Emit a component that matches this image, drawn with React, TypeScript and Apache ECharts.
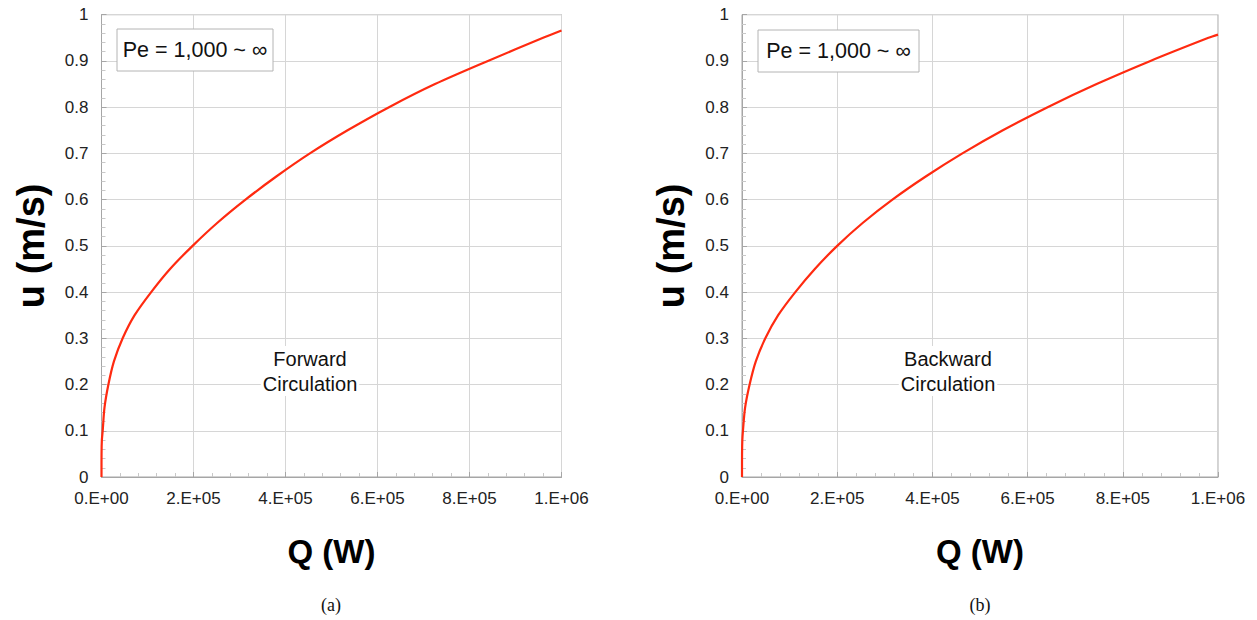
import React, { useEffect, useRef } from "react";
import * as echarts from "echarts";

// Forward circulation (a): heat input Q (W) and velocity u (m/s)
const forwardQ = [0, 100, 800, 2600, 6500, 15000, 27000, 46000, 72000, 108000, 149000, 198000, 252000, 313000, 380000, 453000, 535000, 625000, 725000, 840000, 960000, 1000000];
const forwardU = [0, 0.05, 0.08, 0.1, 0.15, 0.2, 0.25, 0.3, 0.35, 0.4, 0.45, 0.5, 0.55, 0.6, 0.65, 0.7, 0.75, 0.8, 0.85, 0.9, 0.95, 0.966];

// Backward circulation (b)
const backwardQ = [0, 100, 700, 2000, 6500, 16000, 29000, 49000, 76000, 112000, 153000, 200000, 254000, 316000, 386000, 463000, 548000, 642000, 745000, 858000, 980000, 1000000];
const backwardU = [0, 0.05, 0.08, 0.1, 0.15, 0.2, 0.25, 0.3, 0.35, 0.4, 0.45, 0.5, 0.55, 0.6, 0.65, 0.7, 0.75, 0.8, 0.85, 0.9, 0.95, 0.957];

const xTickLabels = ["0.E+00", "2.E+05", "4.E+05", "6.E+05", "8.E+05", "1.E+06"];
const yTickLabels = ["0", "0.1", "0.2", "0.3", "0.4", "0.5", "0.6", "0.7", "0.8", "0.9", "1"];

const FONT = "'Liberation Sans', Arial, Helvetica, sans-serif";
const FRAME = "#a6a6a6";
const GRIDLINE = "#d6d6d6";

const grids = [
  { left: 101.5, top: 14.7, width: 460, height: 462.3 },
  { left: 742, top: 14.7, width: 476, height: 462.3 },
];

function makeX(i: number) {
  return {
    type: "value",
    gridIndex: i,
    min: 0,
    max: 1000000,
    interval: 200000,
    name: "Q (W)",
    nameLocation: "middle",
    nameGap: 58,
    nameTextStyle: { fontFamily: FONT, fontWeight: "bold", fontSize: 33, color: "#000" },
    axisLine: { show: true, lineStyle: { color: FRAME, width: 1 } },
    axisTick: { show: true, inside: true, length: 5, lineStyle: { color: FRAME } },
    minorTick: { show: true, splitNumber: 5, length: 4, lineStyle: { color: "#c8c8c8" } },
    axisLabel: {
      fontFamily: FONT,
      fontSize: 17,
      color: "#222",
      margin: 13,
      formatter: (v: number) => xTickLabels[Math.round(v / 200000)] ?? "",
    },
    splitLine: { show: true, lineStyle: { color: GRIDLINE, width: 1 } },
  };
}

function makeY(i: number) {
  return {
    type: "value",
    gridIndex: i,
    min: 0,
    max: 1,
    interval: 0.1,
    name: "u (m/s)",
    nameLocation: "middle",
    nameRotate: 90,
    nameGap: 52,
    nameTextStyle: { fontFamily: FONT, fontWeight: "bold", fontSize: 38, color: "#000" },
    axisLine: { show: true, lineStyle: { color: FRAME, width: 1 } },
    axisTick: { show: true, inside: true, length: 5, lineStyle: { color: FRAME } },
    minorTick: { show: true, splitNumber: 5, length: 4, lineStyle: { color: "#c8c8c8" } },
    axisLabel: {
      fontFamily: FONT,
      fontSize: 17,
      color: "#222",
      margin: 13,
      formatter: (v: number) => yTickLabels[Math.round(v * 10)] ?? "",
    },
    splitLine: { show: true, lineStyle: { color: GRIDLINE, width: 1 } },
  };
}

function peBox(x: number, y: number, w: number, h: number) {
  return [
    {
      type: "rect",
      shape: { x, y, width: w, height: h },
      style: { fill: "#fff", stroke: "#b4b4b4", lineWidth: 1 },
      z: 10,
    },
    {
      type: "text",
      x: x + w / 2,
      y: y + h / 2,
      style: {
        text: "Pe = 1,000 ~ ∞",
        fontFamily: FONT,
        fontSize: 21.5,
        fill: "#111",
        align: "center",
        verticalAlign: "middle",
      },
      z: 11,
    },
  ];
}

function circText(cx: number, cy: number, label: string) {
  return {
    type: "text",
    x: cx,
    y: cy,
    style: {
      text: label + "\nCirculation",
      fontFamily: FONT,
      fontSize: 20,
      lineHeight: 25,
      fill: "#111",
      align: "center",
      verticalAlign: "middle",
      backgroundColor: "#fff",
      padding: [0, 2],
    },
    z: 10,
  };
}

function caption(cx: number, label: string) {
  return {
    type: "text",
    x: cx,
    y: 605,
    style: {
      text: label,
      fontFamily: "'Liberation Serif', 'Times New Roman', serif",
      fontSize: 18,
      fill: "#111",
      align: "center",
      verticalAlign: "middle",
    },
  };
}

export default function App() {
  const ref = useRef<HTMLDivElement>(null);
  useEffect(() => {
    if (!ref.current) return;
    const chart = echarts.init(ref.current, undefined, { renderer: "svg" });
    chart.setOption({
      animation: false,
      backgroundColor: "#fff",
      grid: grids.map((g) => ({ ...g, show: true, borderColor: FRAME, borderWidth: 1, containLabel: false })),
      xAxis: [makeX(0), makeX(1)],
      yAxis: [makeY(0), makeY(1)],
      series: [
        {
          name: "Forward Circulation",
          type: "line",
          xAxisIndex: 0,
          yAxisIndex: 0,
          data: forwardQ.map((q, i) => [q, forwardU[i]]),
          smooth: 0.3,
          showSymbol: false,
          lineStyle: { color: "#ff2a10", width: 2.2, join: "round" },
        },
        {
          name: "Backward Circulation",
          type: "line",
          xAxisIndex: 1,
          yAxisIndex: 1,
          data: backwardQ.map((q, i) => [q, backwardU[i]]),
          smooth: 0.3,
          showSymbol: false,
          lineStyle: { color: "#ff2a10", width: 2.2, join: "round" },
        },
      ],
      graphic: [
        ...peBox(117, 29, 156, 42),
        ...peBox(758, 30, 161, 42),
        circText(310, 371, "Forward"),
        circText(948, 371, "Backward"),
        caption(331, "(a)"),
        caption(980, "(b)"),
      ],
    });
    return () => chart.dispose();
  }, []);
  return (
    <div
      ref={ref}
      style={{ position: "fixed", left: 0, top: 0, width: 1257, height: 620, background: "#fff" }}
    />
  );
}
